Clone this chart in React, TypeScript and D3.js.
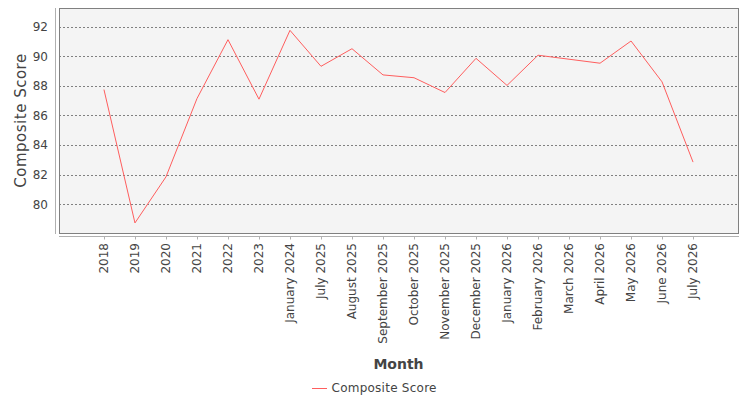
import React, { useRef, useEffect } from "react";
import * as d3 from "d3";

const months = [
  "2018", "2019", "2020", "2021", "2022", "2023", "January 2024",
  "July 2025", "August 2025", "September 2025", "October 2025",
  "November 2025", "December 2025", "January 2026", "February 2026",
  "March 2026", "April 2026", "May 2026", "June 2026", "July 2026",
];
const compositeScore = [
  87.75, 78.74, 81.85, 87.14, 91.12, 87.1, 91.75,
  89.32, 90.51, 88.74, 88.55, 87.55, 89.86, 88.03,
  90.07, 89.8, 89.53, 91.03, 88.27, 82.85,
];
const yTicks = [80, 82, 84, 86, 88, 90, 92];
const seriesName = "Composite Score";

const W = 750;
const H = 400;
const FONT = "DejaVu Sans, sans-serif";
const TEXT = "#444";

const App = () => {
  const svgRef = useRef<SVGSVGElement>(null);

  useEffect(() => {
    drawChart();
  }, []);

  const drawChart = () => {
    const svg = d3.select(svgRef.current);
    svgRef.current!.querySelectorAll("*").forEach((n) => n.remove());

    const plot = { left: 59, right: 738, top: 8, bottom: 233 };

    const xScale = d3.scalePoint<string>()
      .domain(months)
      .range([plot.left, plot.right])
      .padding(1.45);

    const yScale = d3.scaleLinear()
      .domain([78.06, 93.26])
      .range([plot.bottom, plot.top]);

    // plot background
    svg.append("rect")
      .attr("x", plot.left + 0.5)
      .attr("y", plot.top + 0.5)
      .attr("width", plot.right - plot.left)
      .attr("height", plot.bottom - plot.top)
      .attr("fill", "#f4f4f4")
      .attr("stroke", "none");

    // grid
    svg.append("g")
      .selectAll("line")
      .data(yTicks)
      .join("line")
      .attr("x1", plot.left)
      .attr("x2", plot.right)
      .attr("y1", (d) => Math.round(yScale(d)) + 0.5)
      .attr("y2", (d) => Math.round(yScale(d)) + 0.5)
      .attr("stroke", "#808080")
      .attr("stroke-width", 1)
      .attr("stroke-dasharray", "2,2");

    // series line
    const line = d3.line<number>()
      .x((_, i) => xScale(months[i])!)
      .y((d) => yScale(d));

    svg.append("path")
      .datum(compositeScore)
      .attr("d", line)
      .attr("fill", "none")
      .attr("stroke", "#ff5e5e")
      .attr("stroke-width", 1);

    // plot border
    svg.append("rect")
      .attr("x", plot.left + 0.5)
      .attr("y", plot.top + 0.5)
      .attr("width", plot.right - plot.left)
      .attr("height", plot.bottom - plot.top)
      .attr("fill", "none")
      .attr("stroke", "#808080");

    // y axis
    const yAxis = svg.append("g");
    yAxis.append("line")
      .attr("x1", 55.5).attr("x2", 55.5)
      .attr("y1", plot.top).attr("y2", plot.bottom + 1)
      .attr("stroke", "#b0b0b0");
    yAxis.selectAll("text")
      .data(yTicks)
      .join("text")
      .attr("x", 48)
      .attr("y", (d) => yScale(d))
      .attr("dy", "0.36em")
      .attr("text-anchor", "end")
      .attr("font-family", FONT)
      .attr("font-size", 12)
      .attr("fill", TEXT)
      .text((d) => d);

    // x axis
    const xAxis = svg.append("g");
    xAxis.append("line")
      .attr("x1", plot.left).attr("x2", plot.right + 1)
      .attr("y1", 236.5).attr("y2", 236.5)
      .attr("stroke", "#b0b0b0");
    xAxis.selectAll(".tick")
      .data(months)
      .join("line")
      .attr("class", "tick")
      .attr("x1", (d) => Math.round(xScale(d)!) + 0.5)
      .attr("x2", (d) => Math.round(xScale(d)!) + 0.5)
      .attr("y1", 236.5)
      .attr("y2", 239.5)
      .attr("stroke", "#b0b0b0");
    xAxis.selectAll("text")
      .data(months)
      .join("text")
      .attr("transform", (d) => `translate(${xScale(d)}, 243) rotate(-90)`)
      .attr("dy", "0.36em")
      .attr("text-anchor", "end")
      .attr("font-family", FONT)
      .attr("font-size", 12)
      .attr("fill", TEXT)
      .text((d) => d);

    // axis titles
    svg.append("text")
      .attr("transform", `translate(26, ${(plot.top + plot.bottom) / 2}) rotate(-90)`)
      .attr("text-anchor", "middle")
      .attr("font-family", FONT)
      .attr("font-size", 15)
      .attr("letter-spacing", 0.5)
      .attr("fill", TEXT)
      .text("Composite Score");

    svg.append("text")
      .attr("x", 398.5)
      .attr("y", 369)
      .attr("text-anchor", "middle")
      .attr("font-family", FONT)
      .attr("font-size", 14)
      .attr("font-weight", "bold")
      .attr("fill", TEXT)
      .text("Month");

    // legend
    const legend = svg.append("g");
    legend.append("line")
      .attr("x1", 312).attr("x2", 327)
      .attr("y1", 388.5).attr("y2", 388.5)
      .attr("stroke", "#ff5e5e");
    legend.append("text")
      .attr("x", 331.5)
      .attr("y", 391.5)
      .attr("font-family", FONT)
      .attr("font-size", 12)
      .attr("letter-spacing", 0.25)
      .attr("fill", TEXT)
      .text(seriesName);
  };

  return (
    <svg
      ref={svgRef}
      width={W}
      height={H}
      style={{ position: "absolute", left: 0, top: 0, background: "#fff" }}
    />
  );
};

export default App;
